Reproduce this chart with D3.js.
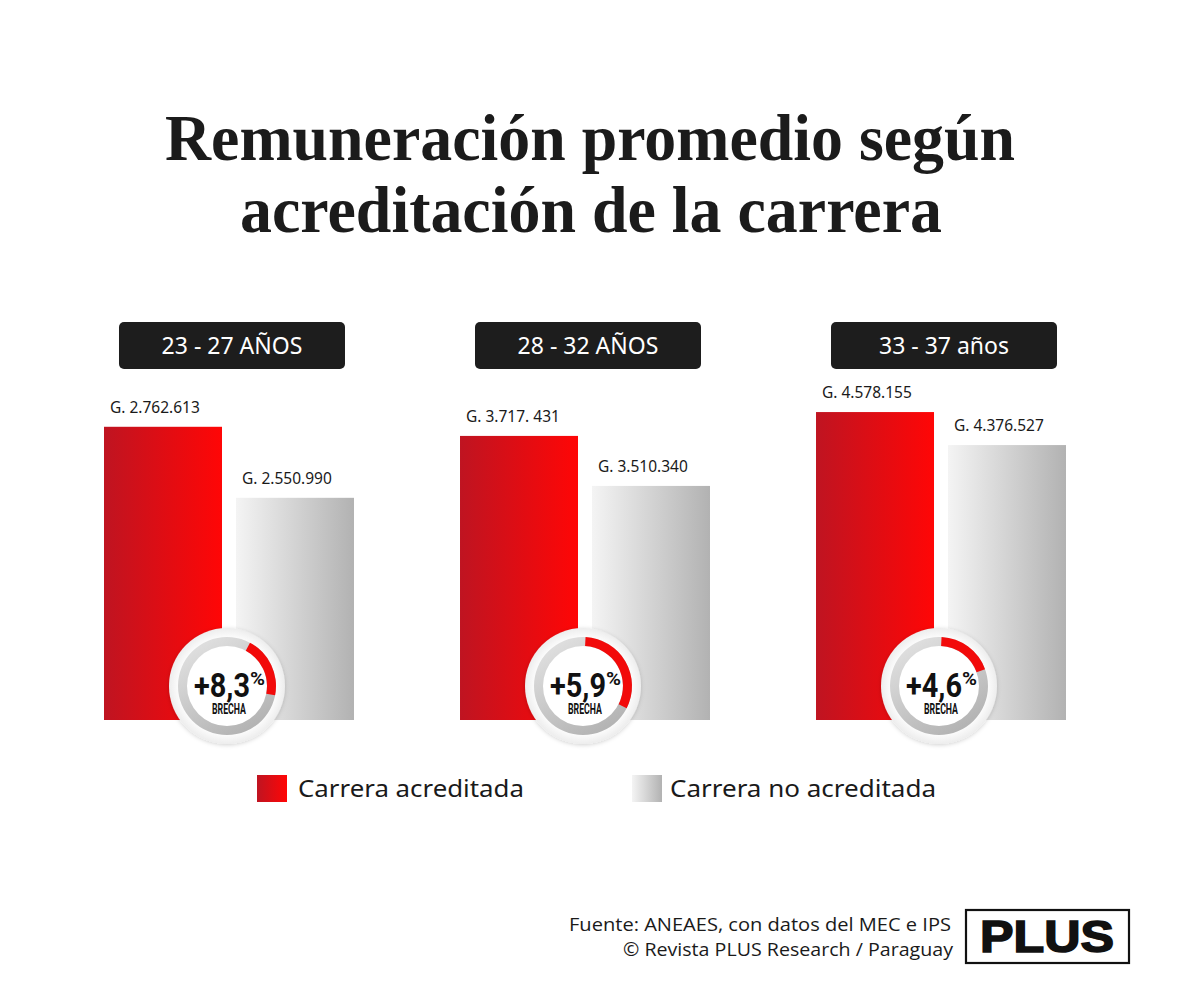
<!DOCTYPE html>
<html>
<head>
<meta charset="utf-8">
<script src="https://cdn.jsdelivr.net/npm/d3@7"></script>
<style>
  body { margin: 0; background: #fff; }
</style>
</head>
<body>
<div id="chart"></div>
<script>
// Remuneracion promedio - datos
var groups = ["23 - 27 AÑOS", "28 - 32 AÑOS", "33 - 37 años"];
var series = ["Carrera acreditada", "Carrera no acreditada"];
var acreditada = [2762613, 3717431, 4578155];
var noAcreditada = [2550990, 3510340, 4376527];
var labelsAcreditada = ["G. 2.762.613", "G. 3.717. 431", "G. 4.578.155"];
var labelsNoAcreditada = ["G. 2.550.990", "G. 3.510.340", "G. 4.376.527"];
var brecha = [8.3, 5.9, 4.6];
// ring arc (degrees, clockwise from top) as drawn in the original
var arcDesde = [28, 3, 3];
var arcHasta = [101, 117, 70];
// each panel has its own value axis in the original
var yMin = [1889000, 2541000, 2697000];
var yMax = [2902000, 3949000, 4774000];

var width = 1200;
var height = 1008;
var baseY = 720;
var topY = 380;

var svg = d3.select("#chart")
    .append("svg")
    .attr("width", width)
    .attr("height", height)
    .style("display", "block");

svg.append("rect").attr("width", width).attr("height", height).attr("fill", "#fff");

// gradients
var defs = svg.append("defs");

function hGrad(id, c1, c2) {
    var g = defs.append("linearGradient").attr("id", id)
        .attr("x1", "0%").attr("x2", "100%").attr("y1", "0%").attr("y2", "0%");
    g.append("stop").attr("offset", "0%").attr("stop-color", c1);
    g.append("stop").attr("offset", "100%").attr("stop-color", c2);
}
hGrad("gradRed", "#bf1421", "#ff0606");
hGrad("gradGray", "#f4f4f4", "#b2b2b2");

var ringGrad = defs.append("linearGradient").attr("id", "gradRing")
    .attr("x1", "0%").attr("x2", "60%").attr("y1", "0%").attr("y2", "100%");
ringGrad.append("stop").attr("offset", "0%").attr("stop-color", "#e6e6e6");
ringGrad.append("stop").attr("offset", "100%").attr("stop-color", "#b4b4b4");

var discGrad = defs.append("radialGradient").attr("id", "gradDisc");
discGrad.append("stop").attr("offset", "80%").attr("stop-color", "#ffffff");
discGrad.append("stop").attr("offset", "100%").attr("stop-color", "#ededed");

var shadow = defs.append("filter").attr("id", "shadow")
    .attr("x", "-30%").attr("y", "-30%").attr("width", "160%").attr("height", "160%");
shadow.append("feDropShadow").attr("dx", 0).attr("dy", 1).attr("stdDeviation", 2)
    .attr("flood-color", "#000").attr("flood-opacity", 0.18);

// Title
var title = svg.append("g")
    .attr("font-family", "'Liberation Serif', 'DejaVu Serif', serif")
    .attr("font-weight", "bold")
    .attr("font-size", 66)
    .attr("fill", "#1b1b1b")
    .attr("text-anchor", "middle");

title.append("text").attr("x", 590).attr("y", 160)
    .attr("textLength", 850).attr("lengthAdjust", "spacingAndGlyphs")
    .text("Remuneración promedio según");
title.append("text").attr("x", 591).attr("y", 232)
    .attr("textLength", 702).attr("lengthAdjust", "spacingAndGlyphs")
    .text("acreditación de la carrera");

// scales
var x0 = d3.scaleBand()
    .domain(groups)
    .range([104, 1066])
    .paddingInner(0.2978);

var x1 = d3.scaleBand()
    .domain(series)
    .range([0, x0.bandwidth()])
    .paddingInner(0.106);

var yScales = groups.map(function(g, i) {
    return d3.scaleLinear().domain([yMin[i], yMax[i]]).range([baseY, topY]);
});

var rows = groups.map(function(g, i) {
    return {
        group: g,
        i: i,
        bars: [
            { s: series[0], v: acreditada[i], label: labelsAcreditada[i], fill: "url(#gradRed)" },
            { s: series[1], v: noAcreditada[i], label: labelsNoAcreditada[i], fill: "url(#gradGray)" }
        ]
    };
});

var panel = svg.selectAll(".panel")
    .data(rows)
    .enter()
    .append("g")
    .attr("class", "panel")
    .attr("transform", function(d) { return "translate(" + x0(d.group) + ",0)"; });

// header pills
panel.append("rect")
    .attr("x", x0.bandwidth() / 2 - 110)
    .attr("y", 322)
    .attr("width", 226)
    .attr("height", 47)
    .attr("rx", 5)
    .attr("fill", "#1d1d1d");

panel.append("text")
    .attr("x", x0.bandwidth() / 2 + 3)
    .attr("y", 354)
    .attr("text-anchor", "middle")
    .attr("font-family", "'Noto Sans', sans-serif")
    .attr("font-size", 23)
    .attr("fill", "#fff")
    .text(function(d) { return d.group; });

// bars
panel.each(function(d) {
    var g = d3.select(this);
    var y = yScales[d.i];

    g.selectAll(".bar")
        .data(d.bars)
        .enter()
        .append("rect")
        .attr("class", "bar")
        .attr("x", function(b) { return x1(b.s); })
        .attr("y", function(b) { return y(b.v); })
        .attr("width", x1.bandwidth())
        .attr("height", function(b) { return baseY - y(b.v); })
        .attr("fill", function(b) { return b.fill; });

    g.selectAll(".vlabel")
        .data(d.bars)
        .enter()
        .append("text")
        .attr("class", "vlabel")
        .attr("x", function(b) { return x1(b.s) + 6; })
        .attr("y", function(b) { return y(b.v) - 14; })
        .attr("font-family", "'Noto Sans', sans-serif")
        .attr("font-size", 15.5)
        .attr("fill", "#1a1a1a")
        .text(function(b) { return b.label; });
});

// gap badges
var arcRing = d3.arc().innerRadius(40).outerRadius(49);
var pctFmt = d3.formatLocale({ decimal: ",", thousands: ".", grouping: [3], currency: ["", ""] }).format(".1f");

var badge = panel.append("g")
    .attr("transform", function(d) {
        return "translate(" + (x1(series[1]) - 9) + ",686)";
    });

badge.append("circle")
    .attr("r", 58)
    .attr("fill", "url(#gradDisc)")
    .attr("filter", "url(#shadow)");

badge.append("path")
    .attr("d", arcRing({ startAngle: 0, endAngle: 2 * Math.PI }))
    .attr("fill", "url(#gradRing)");

badge.append("path")
    .attr("d", function(d) {
        return arcRing({
            startAngle: arcDesde[d.i] * Math.PI / 180,
            endAngle: arcHasta[d.i] * Math.PI / 180
        });
    })
    .attr("fill", "#f20a0a");

var pct = badge.append("text")
    .attr("y", 11)
    .attr("font-family", "Roboto, 'DejaVu Sans', sans-serif")
    .attr("font-weight", "bold")
    .attr("fill", "#111");

pct.append("tspan")
    .attr("x", -33)
    .attr("font-size", 34)
    .attr("textLength", 56)
    .attr("lengthAdjust", "spacingAndGlyphs")
    .text(function(d) { return "+" + pctFmt(brecha[d.i]); });

pct.append("tspan")
    .attr("x", 23)
    .attr("dy", -12)
    .attr("font-size", 18)
    .attr("textLength", 15)
    .attr("lengthAdjust", "spacingAndGlyphs")
    .text("%");

badge.append("text")
    .attr("x", -15)
    .attr("y", 28)
    .attr("font-family", "Roboto, 'DejaVu Sans', sans-serif")
    .attr("font-weight", "bold")
    .attr("font-size", 14.5)
    .attr("textLength", 34)
    .attr("lengthAdjust", "spacingAndGlyphs")
    .attr("fill", "#111")
    .text("BRECHA");

// legend
var legend = svg.append("g");
var legendX = [257, 632];
var legendFill = ["url(#gradRed)", "url(#gradGray)"];

var li = legend.selectAll(".li")
    .data(series)
    .enter()
    .append("g")
    .attr("transform", function(d, i) { return "translate(" + legendX[i] + ",775)"; });

li.append("rect")
    .attr("width", 30)
    .attr("height", 27)
    .attr("fill", function(d, i) { return legendFill[i]; });

li.append("text")
    .attr("x", function(d, i) { return i === 0 ? 41 : 38; })
    .attr("y", 22)
    .attr("font-family", "'Noto Sans', sans-serif")
    .attr("font-size", 23)
    .attr("fill", "#1a1a1a")
    .attr("textLength", function(d, i) { return i === 0 ? 226 : 266; })
    .attr("lengthAdjust", "spacingAndGlyphs")
    .text(function(d) { return d; });

// source
var src = svg.append("g")
    .attr("font-family", "'Open Sans', sans-serif")
    .attr("font-size", 18.5)
    .attr("fill", "#1a1a1a")
    .attr("text-anchor", "end");

src.append("text").attr("x", 951).attr("y", 931)
    .attr("textLength", 382).attr("lengthAdjust", "spacingAndGlyphs")
    .text("Fuente: ANEAES, con datos del MEC e IPS");
src.append("text").attr("x", 953).attr("y", 956)
    .attr("textLength", 330).attr("lengthAdjust", "spacingAndGlyphs")
    .text("© Revista PLUS Research / Paraguay");

// logo
svg.append("rect")
    .attr("x", 966).attr("y", 910)
    .attr("width", 163).attr("height", 53)
    .attr("fill", "none")
    .attr("stroke", "#111")
    .attr("stroke-width", 2.2);

svg.append("text")
    .attr("x", 1047).attr("y", 952)
    .attr("text-anchor", "middle")
    .attr("font-family", "'Liberation Sans', Arial, sans-serif")
    .attr("font-weight", "bold")
    .attr("font-size", 44)
    .attr("stroke", "#111")
    .attr("stroke-width", 1.6)
    .attr("fill", "#111")
    .attr("textLength", 134)
    .attr("lengthAdjust", "spacingAndGlyphs")
    .text("PLUS");
</script>
</body>
</html>
